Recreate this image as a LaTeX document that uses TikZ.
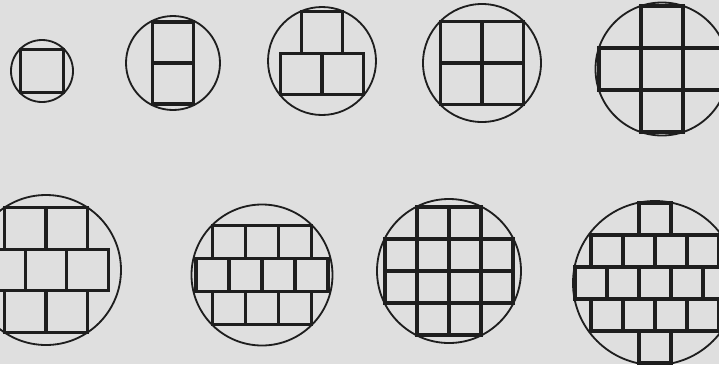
\documentclass[tikz,border=0pt]{standalone}
\usepackage{tikz}
\definecolor{ink}{RGB}{30,30,30}
\definecolor{paper}{RGB}{223,223,223}

\begin{document}
\begin{tikzpicture}[x=0.025cm, y=-0.025cm,
    rim/.style={draw=ink, line width=1.3pt},
    tile/.style={draw=ink, line width=2.3pt},
  ]
  % sheet, cut to the page like the scan
  \fill[paper] (0,0) rectangle (719,364);
  \useasboundingbox (0,0) rectangle (719,364);
  \clip (0,0) rectangle (719,364);

  % cx/cy/radius/side/rows (row offset in sides / squares in row)
  \foreach \cx/\cy/\rad/\side/\rows in {
      42/71/31/43/{0/1},
      173/63/47/41/{-0.5/1,0.5/1},
      322/61/54/41.5/{-0.6875/1,0.3125/2},
      482/63/59/41.5/{-0.5/2,0.5/2},
      662/69/66.5/42/{-1/1,0/3,1/1},
      46/270/75/41.5/{-1/2,0/3,1/2},
      262/275/70.5/33/{-1/3,0/4,1/3},
      449/271/72/32/{-1.5/2,-0.5/4,0.5/4,1.5/2},
      655/283/82/32/{-2/1,-1/4,0/5,1/4,2/1}}{
    \draw[rim] (\cx,\cy) circle[radius=\rad];
    \foreach \dy/\cnt in \rows
      \foreach \col in {1,...,\cnt}
        \draw[tile] ({\cx+(\col-1-\cnt/2)*\side},{\cy+(\dy-0.5)*\side})
          rectangle ++(\side,\side);
  }
\end{tikzpicture}
\end{document}
